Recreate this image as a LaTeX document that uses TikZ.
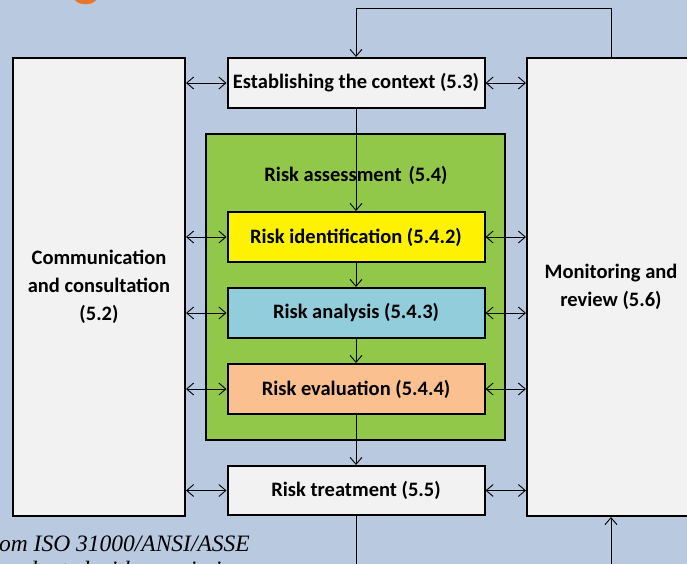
\documentclass[tikz,border=0pt]{standalone}
\usepackage{fontspec}
\setmainfont{Carlito}
\newfontfamily\capfont{Liberation Serif}
\usetikzlibrary{arrows.meta}
\definecolor{bgc}{RGB}{185,201,224}
\definecolor{boxc}{RGB}{242,242,242}
\definecolor{greenc}{RGB}{146,200,74}
\definecolor{yellowc}{RGB}{255,242,0}
\definecolor{bluec}{RGB}{146,205,220}
\definecolor{peachc}{RGB}{250,192,144}
\definecolor{orangec}{RGB}{232,118,40}
\tikzset{
  box/.style={draw=black, line width=2pt, fill=boxc, inner sep=0pt, align=center,
    font=\fontsize{20.5}{28}\selectfont\bfseries},
  lbl/.style={inner sep=0pt, align=center, font=\fontsize{20.5}{28}\selectfont\bfseries},
  conn/.style={line width=0.9pt, draw=black},
  >={Straight Barb[length=7pt,width=12pt,line width=0.9pt]}
}
\begin{document}
\begin{tikzpicture}[x=1pt,y=-1pt]
\useasboundingbox (0,0) rectangle (687,564);
\clip (0,0) rectangle (687,564);
\fill[bgc] (0,0) rectangle (687,564);
\fill[orangec] (75,0) .. controls (78,5.5) and (93,5.5) .. (96,0) -- cycle;
% boxes
\node[box, minimum width=172pt, minimum height=458pt] (comm) at (99,287) {Communication\\and consultation\\(5.2)};
\node[box, minimum width=168pt, minimum height=458pt] (mon) at (611,287) {Monitoring and\\review (5.6)};
\node[box, fill=greenc, minimum width=299pt, minimum height=306pt] (ra) at (355.5,287) {};
\node[box, minimum width=257pt, minimum height=50pt] (est) at (356,83) {Establishing the context (5.3)};
\node[box, fill=yellowc, minimum width=257pt, minimum height=50pt] (rid) at (356,237) {Risk identification (5.4.2)};
\node[box, fill=bluec, minimum width=257pt, minimum height=50pt] (ana) at (356,313) {Risk analysis (5.4.3)};
\node[box, fill=peachc, minimum width=257pt, minimum height=50pt] (eva) at (356,389) {Risk evaluation (5.4.4)};
\node[box, minimum width=257pt, minimum height=49pt] (trt) at (356,490.5) {Risk treatment (5.5)};
% connectors
\coordinate (top) at (356,8);
\coordinate (botl) at (356,564);
\coordinate (botr) at (611,564);
\draw[conn,->] (mon.north) |- (top) -- (est.north);
\draw[conn,->] (est.south) -- (rid.north);
\node[lbl] (ral) at (356,175) {Risk assessment\,\,(5.4)};
\draw[conn,->] (rid.south) -- (ana.north);
\draw[conn,->] (ana.south) -- (eva.north);
\draw[conn,->] (eva.south) -- (trt.north);
\draw[conn] (trt.south) -- (botl);
\draw[conn,->] (botr) -- (mon.south);
\foreach \n in {est,rid,ana,eva,trt}{
  \draw[conn,<->] (comm.east |- \n.west) -- (\n.west);
  \draw[conn,<->] (\n.east) -- (mon.west |- \n.east);
}
% caption fragments
\node[anchor=base east, inner sep=0pt, font=\capfont\itshape\fontsize{23.5}{23.5}\selectfont] (cap1) at (250,551) {from ISO 31000/ANSI/ASSE};
\node[anchor=base east, inner sep=0pt, font=\capfont\itshape\fontsize{23.5}{23.5}\selectfont] (cap2) at (245,577) {adapted with permission};
\end{tikzpicture}
\end{document}
